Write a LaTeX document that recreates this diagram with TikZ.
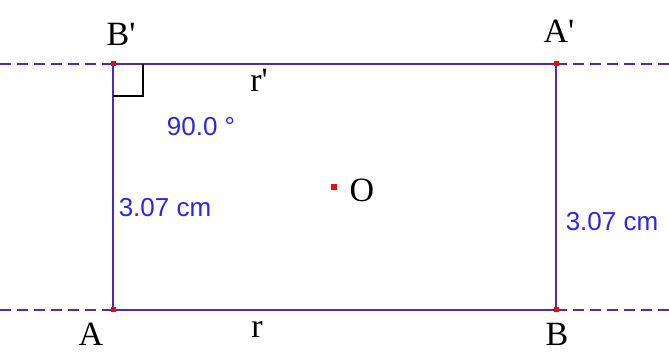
\documentclass[tikz,border=0pt]{standalone}
\usepackage{fontspec}
\setmainfont{Liberation Serif}
\newfontfamily\meas{Liberation Sans}
\begin{document}
\begin{tikzpicture}[x=1pt,y=-1pt,
  seg/.style={draw=linecol,line width=2pt},
  ext/.style={draw=linecol,line width=1.6pt,dash pattern=on 11pt off 6pt},
  lbl/.style={inner sep=0pt,font=\fontsize{34}{36}\selectfont},
  measlbl/.style={inner sep=0pt,text=meascol,font=\meas\fontsize{26}{28}\selectfont},
  pt/.style={fill=red,inner sep=0pt,minimum size=5pt}]
\definecolor{linecol}{RGB}{80,40,190}
\definecolor{meascol}{RGB}{40,40,230}
\useasboundingbox (0,0) rectangle (669,352);
\coordinate (A) at (113,310);
\coordinate (B) at (556,310);
\coordinate (A1) at (556,64);
\coordinate (B1) at (113,64);
\coordinate (L1) at (0,64);
\coordinate (R1) at (669,64);
\coordinate (L0) at (0,310);
\coordinate (R0) at (669,310);
\draw[ext] (L1) -- (B1);
\draw[ext] (A1) -- (R1);
\draw[ext] (L0) -- (A);
\draw[ext] (B) -- (R0);
\draw[seg] (A) -- (B) -- (A1) -- (B1) -- cycle;
\draw[black,line width=2pt] ([xshift=30]B1) -- ([xshift=30,yshift=-32]B1) -- ([yshift=-32]B1);
\node[pt] (pA) at (A) {};
\node[pt] (pB) at (B) {};
\node[pt] (pA1) at (A1) {};
\node[pt] (pB1) at (B1) {};
\node[pt,minimum size=6pt] (pO) at (334,187) {};
\node[lbl] (lB1) at (121,34) {B\textquotesingle};
\node[lbl] (lA1) at (559,31) {A\textquotesingle};
\node[lbl] (lA) at (91,334) {A};
\node[lbl] (lB) at (557,334) {B};
\node[lbl] (lr) at (257,329) {r};
\node[lbl] (lr1) at (259,80) {r\textquotesingle};
\node[lbl] (lO) at (362,190) {O};
\node[measlbl] (m1) at (165,208) {3.07 cm};
\node[measlbl] (m2) at (612,222) {3.07 cm};
\node[measlbl] (ang) at (201,127) {90.0 °};
\end{tikzpicture}
\end{document}
